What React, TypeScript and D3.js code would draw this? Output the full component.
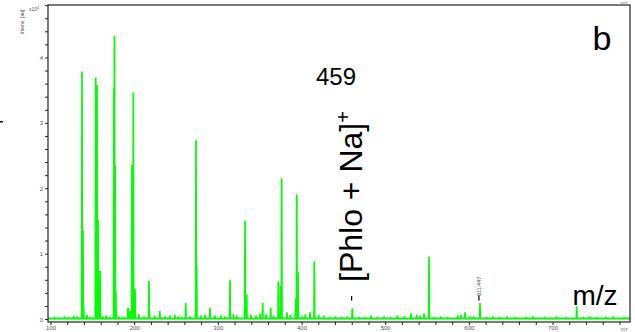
import React from "react";
import * as d3 from "d3";

// Major peaks: m/z and intensity (x10^4 a.u.)
const peakMz = [
  137.0, 138.2, 139.0, 153.4, 155.0, 156.2, 158.6, 175.2, 175.8, 176.6, 177.5,
  192.0, 194.4, 196.8, 198.4, 200.4, 217.1, 261.0, 273.3, 274.1, 290.0, 313.9,
  331.9, 333.9, 353.0, 362.6, 371.7, 374.5, 375.7, 382.0, 392.5, 393.7, 395.2,
  409.6, 414.7, 460.1, 482.5, 530.3, 545.8, 551.8, 594.8, 600.8, 612.7, 728.3,
];
const peakInt = [
  3.78, 1.35, 0.19, 3.69, 3.57, 1.52, 0.73, 3.52, 4.33, 2.34, 0.42,
  0.17, 0.12, 2.35, 3.46, 0.45, 0.58, 0.24, 2.73, 0.82, 0.17, 0.59,
  1.5, 0.37, 0.24, 0.17, 0.57, 0.5, 2.15, 0.1, 0.31, 1.9, 0.71,
  0.1, 0.88, 0.16, 0.05, 0.08, 0.08, 0.95, 0.1, 0.04, 0.24, 0.19,
];
// small baseline bumps
const noiseMz = [
  104, 110, 116, 121, 127, 131, 143, 147, 162, 166, 170, 181, 186, 205, 211,
  224, 230, 236, 242, 248, 252, 256, 266, 279, 284, 296, 303, 308, 318, 322,
  339, 345, 350, 357, 366, 386, 400, 404, 420, 426, 433, 440, 447, 454, 468,
  475, 490, 498, 506, 514, 522, 537, 541, 558, 566, 574, 586, 590, 605, 620,
  628, 636, 645, 655, 668, 676, 690, 704, 716, 736, 744, 752, 763, 772, 785,
];
const noiseInt = [
  0.03, 0.02, 0.04, 0.03, 0.05, 0.04, 0.06, 0.03, 0.04, 0.05, 0.03, 0.04, 0.03, 0.07, 0.04,
  0.05, 0.12, 0.04, 0.05, 0.06, 0.04, 0.03, 0.04, 0.05, 0.06, 0.05, 0.05, 0.04, 0.07, 0.05,
  0.06, 0.05, 0.08, 0.07, 0.05, 0.06, 0.04, 0.07, 0.06, 0.05, 0.03, 0.04, 0.03, 0.04, 0.03,
  0.03, 0.03, 0.04, 0.03, 0.05, 0.04, 0.06, 0.05, 0.03, 0.04, 0.03, 0.05, 0.06, 0.04, 0.03,
  0.04, 0.03, 0.04, 0.03, 0.03, 0.04, 0.03, 0.04, 0.03, 0.03, 0.04, 0.03, 0.03, 0.04, 0.03,
];

const xMajorTicks = [100, 200, 300, 400, 500, 600, 700];
const yMajorTicks = [0, 1, 2, 3, 4];
const labelPeakMz = [459.3, 611.447];
const labelPeakText = ["", "611.447"];

const W = 635;
const H = 332;

export default function App() {
  const x = d3.scaleLinear().domain([96.4, 792]).range([48, 630]);
  const y = d3.scaleLinear().domain([-0.038, 4.81]).range([322, 5]);

  const base = 0.015;
  type P = { mz: number; v: number };
  const pts: P[] = [];
  peakMz.forEach((m, i) => pts.push({ mz: m, v: peakInt[i] }));
  noiseMz.forEach((m, i) => pts.push({ mz: m, v: noiseInt[i] }));
  pts.sort((a, b) => a.mz - b.mz);
  const linePts: [number, number][] = [[96.4, base]];
  pts.forEach((p) => {
    linePts.push([p.mz - 0.5, base]);
    linePts.push([p.mz - 0.15, p.v]);
    linePts.push([p.mz + 0.15, p.v]);
    linePts.push([p.mz + 0.5, base]);
  });
  linePts.push([792, base]);
  const line = d3
    .line<[number, number]>()
    .x((d) => x(d[0]))
    .y((d) => y(d[1]));

  const xMinor = d3.range(100, 792, 20);
  const yMinor = d3.range(0, 4.81, 0.2);

  const tickFont = "Liberation Sans, Arial, sans-serif";

  return (
    <svg width={W} height={H} style={{ position: "absolute", left: 0, top: 0 }}>
      <rect x={0} y={0} width={W} height={H} fill="#fff" />
      {/* baseline band */}
      <line x1={x(96.4)} x2={x(792)} y1={y(base)} y2={y(base)} stroke="#66ff66" strokeWidth={2.2} />
      <path d={line(linePts) || ""} fill="none" stroke="#00ff00" strokeWidth={1.5} />

      {/* peak label markers */}
      {labelPeakMz.map((m, i) => (
        <g key={i}>
          <line x1={x(m)} x2={x(m)} y1={y(0.36)} y2={y(0.29)} stroke="#000" strokeWidth={1.2} />
          {labelPeakText[i] && (
            <text
              transform={`translate(${x(m) + 2},${y(0.33) - 2}) rotate(-90)`}
              fontSize={5.5}
              fontFamily={tickFont}
              fill="#333"
            >
              {labelPeakText[i]}
            </text>
          )}
        </g>
      ))}

      {/* frame */}
      <rect x={48} y={5} width={582} height={317} fill="none" stroke="#222" strokeWidth={1.2} />

      {/* x ticks */}
      {xMinor.map((t) => (
        <line key={"xm" + t} x1={x(t)} x2={x(t)} y1={322} y2={325} stroke="#222" strokeWidth={1} />
      ))}
      {xMajorTicks.map((t) => (
        <text
          key={"xl" + t}
          x={x(t)}
          y={329.5}
          fontSize={6}
          fontFamily={tickFont}
          fill="#555"
          textAnchor="middle"
        >
          {t}
        </text>
      ))}
      {/* y ticks */}
      {yMinor.map((t) => (
        <line key={"ym" + t} x1={45} x2={48} y1={y(t)} y2={y(t)} stroke="#222" strokeWidth={1} />
      ))}
      {yMajorTicks.map((t) => (
        <text
          key={"yl" + t}
          x={43}
          y={y(t) + 2}
          fontSize={6}
          fontFamily={tickFont}
          fill="#555"
          textAnchor="end"
        >
          {t}
        </text>
      ))}
      <text x={29} y={11} fontSize={5} fontFamily={tickFont} fill="#555">
        x10<tspan dy={-2} fontSize={4}>4</tspan>
      </text>
      <text
        transform="translate(24,22) rotate(-90)"
        fontSize={5}
        fontFamily={tickFont}
        fill="#555"
        textAnchor="middle"
      >
        Intens. [au]
      </text>
      <text x={624} y={4.5} fontSize={4.5} fontFamily={tickFont} fill="#777" textAnchor="middle">
        m/z
      </text>
      <text x={624} y={331} fontSize={4.5} fontFamily={tickFont} fill="#777" textAnchor="middle">
        m/z
      </text>
      <rect x={0} y={121} width={3} height={1.5} fill="#111" />

      {/* annotations */}
      <text x={602} y={50} fontSize={34} fontFamily={tickFont} fill="#000" textAnchor="middle">
        b
      </text>
      <text x={336} y={85} fontSize={24} fontFamily={tickFont} fill="#000" textAnchor="middle">
        459
      </text>
      <text
        transform="translate(362,282) rotate(-90)"
        fontSize={32}
        fontFamily={tickFont}
        fill="#000"
      >
        [Phlo + Na]<tspan dy={-12} fontSize={20}>+</tspan>
      </text>
      <text x={595} y={305} fontSize={28} fontFamily={tickFont} fill="#000" textAnchor="middle">
        m/z
      </text>
    </svg>
  );
}
